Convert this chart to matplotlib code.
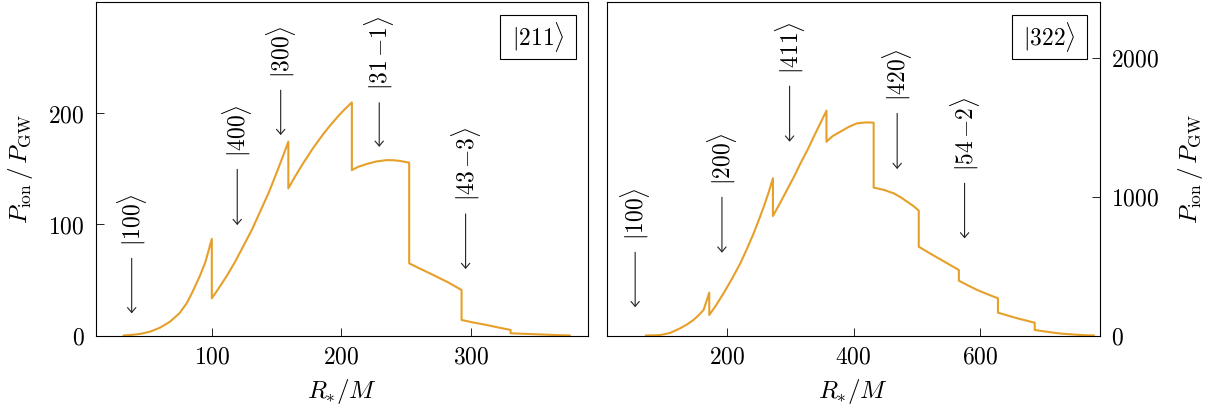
import matplotlib
matplotlib.use("Agg")
import matplotlib.pyplot as plt
from matplotlib.patches import Rectangle

plt.rcParams['font.family'] = 'serif'
plt.rcParams['font.serif'] = ['cmr10', 'DejaVu Serif']
plt.rcParams['mathtext.fontset'] = 'cm'
plt.rcParams['axes.formatter.use_mathtext'] = True

# ---------------- data: |211> panel ----------------
x_211 = [32, 36.9, 45, 52.3, 60, 67.7, 75, 80.6, 85, 90.9, 95, 100,
         100, 105, 111.5, 118, 124.3, 131, 137.1, 144, 150, 155, 159,
         159, 164, 170.5, 178, 186, 192, 198, 203, 208,
         208, 213, 219.4, 227, 234.8, 240, 245, 252.2,
         252.2, 260, 270.8, 282, 292.6,
         292.6, 302, 311.9, 321, 330.4,
         330.4, 341, 353, 365, 376]
y_211 = [0, 0.4, 1.5, 3.4, 7, 12.4, 20, 29, 39, 54, 66, 87,
         33.5, 42, 53.6, 66.5, 80.5, 95.5, 111.2, 129, 146.7, 162, 174.6,
         132.6, 142.8, 155.3, 168.7, 181.6, 190.3, 198.3, 204.4, 210,
         149, 152, 154.5, 156.8, 158, 157.9, 157.3, 155.7,
         65, 60.5, 54.5, 48, 41,
         14, 11.6, 9.5, 7.2, 5,
         2, 1.5, 1, 0.4, 0]

# ---------------- data: |322> panel ----------------
x_322 = [72, 82, 94, 110, 126, 137, 147, 155, 163, 172,
         172, 183, 194.5, 208, 221, 232, 242, 250, 258, 266, 272.5,
         272.5, 284, 294.7, 306, 316, 327, 337, 347, 357,
         357, 367, 379, 392, 405, 420, 431.5,
         431.5, 448, 463, 474, 484.4, 494, 502.7,
         502.7, 518, 534, 550, 566,
         566, 580, 595, 611, 627.7,
         627.7, 643, 658.3, 672, 685.7,
         685.7, 700, 716, 729, 742.6, 760, 779]
y_322 = [0, 1, 3, 18, 52, 80, 112, 145, 184, 309,
         148, 220, 304, 410, 520, 630, 736, 830, 928, 1035, 1133,
         861, 957, 1049, 1147, 1241, 1337, 1433, 1527, 1620,
         1397, 1438, 1469, 1503, 1529, 1536, 1534,
         1066, 1049, 1025, 997, 964, 934, 900,
         640, 598, 556, 514, 472,
         395, 362, 328, 298, 268,
         165, 144, 124, 108, 92,
         40, 30, 20, 13, 8.6, 3, 0]

# annotation labels, arrow tip and arrow tail (data values)
labels_211 = [r'$|100\rangle$', r'$|400\rangle$', r'$|300\rangle$',
              r'$|31\,{-1}\rangle$', r'$|43\,{-3}\rangle$']
ann_x_211 = [38.2, 119.6, 153.1, 229.1, 295.7]
ann_tip_211 = [20, 99.5, 180.6, 170, 59.9]
ann_tail_211 = [69.5, 149.7, 221, 209.7, 109.5]

labels_322 = [r'$|100\rangle$', r'$|200\rangle$', r'$|411\rangle$',
              r'$|420\rangle$', r'$|54\,{-2}\rangle$']
ann_x_322 = [55, 192, 298.8, 468.6, 575]
ann_tip_322 = [204, 597, 1397, 1200, 700]
ann_tail_322 = [600, 996, 1797, 1601, 1097]

state_211 = r'$|211\rangle$'
state_322 = r'$|322\rangle$'

xticks_211 = [100, 200, 300]
yticks_211 = [0, 100, 200]
xticks_322 = [200, 400, 600]
yticks_322 = [0, 1000, 2000]

# ---------------- drawing ----------------
W, H = 1218, 416
fig = plt.figure(figsize=(W / 100, H / 100), dpi=100)
ax1 = fig.add_axes([95.5 / W, 1 - 335.5 / H, (588.4 - 95.5) / W, 333 / H])
ax2 = fig.add_axes([606.9 / W, 1 - 335.5 / H, (1099.5 - 606.9) / W, 333 / H])

ORANGE = '#E6A02A'
FS = 17

def style(ax, xt, yt):
    for s in ax.spines.values():
        s.set_linewidth(0.8)
        s.set_color('black')
    ax.set_xticks(xt)
    ax.set_yticks(yt)
    ax.tick_params(direction='in', length=5.5, width=0.6, labelsize=FS, pad=8)

def annotate(ax, xs, tips, tails, labels):
    for x, yt, ya, lab in zip(xs, tips, tails, labels):
        ax.annotate('', xy=(x, yt), xycoords='data', xytext=(x, ya),
                    textcoords='data',
                    arrowprops=dict(arrowstyle='->,head_length=0.35,head_width=0.3',
                                    lw=0.8, color='#222222', shrinkA=0, shrinkB=0))
        ax.annotate(lab, xy=(x, ya), xycoords='data', xytext=(0, 9),
                    textcoords='offset points', rotation=90,
                    ha='center', va='bottom', fontsize=FS)

def state_box(ax, label):
    x0, x1, y0, y1 = 0.8215, 0.9748, 0.8294, 0.9634
    ax.add_patch(Rectangle((x0, y0), x1 - x0, y1 - y0, transform=ax.transAxes,
                           fc='white', ec='black', lw=0.8, zorder=5))
    ax.text((x0 + x1) / 2, (y0 + y1) / 2, label, transform=ax.transAxes,
            ha='center', va='center', fontsize=FS, zorder=6)

ax1.plot(x_211, y_211, color=ORANGE, lw=1.5)
ax1.set_xlim(10.3, 390.4)
ax1.set_ylim(0, 300)
style(ax1, xticks_211, yticks_211)
ax1.tick_params(top=False, right=False)
ax1.set_xlabel(r'$R_{*}/M$', fontsize=FS + 1, labelpad=6)
ax1.set_ylabel(r'$P_{\rm ion}\,/\,P_{\rm GW}$', fontsize=FS + 1, labelpad=9)
annotate(ax1, ann_x_211, ann_tip_211, ann_tail_211, labels_211)
state_box(ax1, state_211)

ax2.plot(x_322, y_322, color=ORANGE, lw=1.5)
ax2.set_xlim(10.4, 788)
ax2.set_ylim(0, 2400)
style(ax2, xticks_322, yticks_322)
ax2.yaxis.tick_right()
ax2.yaxis.set_label_position('right')
ax2.tick_params(left=False, top=False)
ax2.set_xlabel(r'$R_{*}/M$', fontsize=FS + 1, labelpad=6)
ax2.set_ylabel(r'$P_{\rm ion}\,/\,P_{\rm GW}$', fontsize=FS + 1, labelpad=12)
annotate(ax2, ann_x_322, ann_tip_322, ann_tail_322, labels_322)
state_box(ax2, state_322)

fig.savefig('out.png', dpi=100)
